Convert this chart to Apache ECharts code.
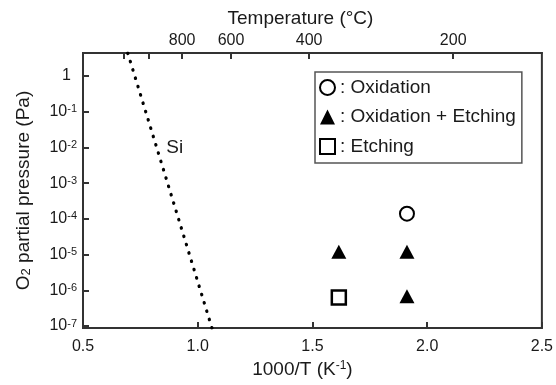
<!DOCTYPE html>
<html>
<head>
<meta charset="utf-8">
<script src="https://cdn.jsdelivr.net/npm/echarts@6/dist/echarts.min.js"></script>
<style>
html, body { margin: 0; padding: 0; background: #fff; }
#chart { width: 556px; height: 385px; }
</style>
</head>
<body>
<div id="chart"></div>
<script>
// x: 1000/T (K^-1), y: O2 partial pressure (Pa)
var oxidation = [[1.912, 1.4e-4]];
var oxidationEtching = [[1.615, 1.2e-5], [1.912, 1.2e-5], [1.912, 6.8e-7]];
var etching = [[1.615, 6.3e-7]];
var siLine = [[0.695, 4.4], [1.062, 8.8e-8]];
var siLabel = [[0.9, 0.01]];
var tempTicks = [1200, 1000, 800, 600, 400, 200];
var tempLabels = [800, 600, 400, 200];

var FONT = "'Liberation Sans', Arial, sans-serif";
var INK = '#1a1a1a';
var AXIS = '#333';

function invT(c) { return 1000 / (c + 273.15); }

var chart = echarts.init(document.getElementById('chart'));

option = {
  animation: false,
  textStyle: { fontFamily: FONT },
  grid: {
    left: 83, right: 14, top: 53, bottom: 57,
    show: true, borderColor: AXIS, borderWidth: 2
  },
  legend: {
    orient: 'vertical',
    left: 315, top: 72,
    padding: [6, 6, 7, 4],
    itemGap: 10.5,
    itemWidth: 15, itemHeight: 15,
    itemTextGap: 11,
    borderColor: '#555', borderWidth: 1.5,
    textStyle: { fontSize: 19, color: INK, fontFamily: FONT },
    formatter: function (n) { return ': ' + n; },
    data: ['Oxidation', 'Oxidation + Etching', 'Etching']
  },
  xAxis: [
    {
      type: 'value', min: 0.5, max: 2.5, interval: 0.5, position: 'bottom',
      name: '{a|1000/T (K}{s|-1}{a|)}',
      nameLocation: 'middle', nameGap: 32,
      nameTextStyle: {
        padding: [0, 20, 0, 0],
        rich: {
          a: { fontSize: 19, color: INK, fontFamily: FONT },
          s: { fontSize: 12, color: INK, fontFamily: FONT, verticalAlign: 'top' }
        }
      },
      axisLine: { lineStyle: { color: AXIS, width: 2 } },
      axisTick: { inside: true, length: 6, lineStyle: { color: AXIS, width: 2 } },
      axisLabel: { fontSize: 16, color: INK, margin: 11,
        formatter: function (v) { return v.toFixed(1); } },
      splitLine: { show: false }
    },
    {
      type: 'value', min: 0.5, max: 2.5, position: 'top',
      name: 'Temperature (°C)',
      nameLocation: 'middle', nameGap: 22,
      nameTextStyle: { fontSize: 19, color: INK, padding: [0, 24, 0, 0] },
      axisLine: { lineStyle: { color: AXIS, width: 2 } },
      axisTick: { inside: true, length: 6, lineStyle: { color: AXIS, width: 2 },
        customValues: tempTicks.map(invT) },
      axisLabel: { fontSize: 16, color: INK, margin: 4,
        customValues: tempLabels.map(invT),
        formatter: function (v) { return String(Math.round(1000 / v - 273.15)); } },
      splitLine: { show: false }
    }
  ],
  yAxis: {
    type: 'log', logBase: 10, min: 8.8e-8, max: 4.41,
    name: '{a|O}{s|2}{a| partial pressure (Pa)}',
    nameLocation: 'middle', nameGap: 50, nameRotate: 90,
    nameTextStyle: {
      rich: {
        a: { fontSize: 19, color: INK, fontFamily: FONT },
        s: { fontSize: 13, color: INK, fontFamily: FONT, verticalAlign: 'bottom' }
      }
    },
    axisLine: { lineStyle: { color: AXIS, width: 2 } },
    axisTick: { inside: true, length: 6, lineStyle: { color: AXIS, width: 2 } },
    axisLabel: {
      margin: 6,
      formatter: function (v) {
        var e = Math.log10(v);
        var r = Math.round(e);
        if (Math.abs(e - r) > 1e-6) return '';
        if (r === 0) return '{one|1}';
        return '{b|10}{s|' + r + '}';
      },
      rich: {
        one: { fontSize: 16, color: INK, fontFamily: FONT, padding: [0, 6, 0, 0] },
        b: { fontSize: 16, color: INK, fontFamily: FONT },
        s: { fontSize: 11, color: INK, fontFamily: FONT, verticalAlign: 'top' }
      }
    },
    splitLine: { show: false }
  },
  series: [
    {
      name: 'Si', type: 'line', data: siLine, showSymbol: false, silent: true,
      lineStyle: { color: '#000', width: 3.2, type: [0.5, 8.2], cap: 'round' },
      z: 1
    },
    {
      name: 'Si label', type: 'scatter', data: siLabel, symbolSize: 0, silent: true,
      itemStyle: { opacity: 1 },
      label: { show: true, position: 'inside', formatter: 'Si', opacity: 1,
        fontSize: 19, color: INK, fontFamily: FONT }
    },
    {
      name: 'Oxidation', type: 'scatter', data: oxidation,
      symbol: 'circle', symbolSize: 14,
      itemStyle: { color: '#fff', borderColor: '#000', borderWidth: 2, opacity: 1 }
    },
    {
      name: 'Oxidation + Etching', type: 'scatter', data: oxidationEtching,
      symbol: 'triangle', symbolSize: [15, 14],
      itemStyle: { color: '#000', opacity: 1 }
    },
    {
      name: 'Etching', type: 'scatter', data: etching,
      symbol: 'rect', symbolSize: 14,
      itemStyle: { color: '#fff', borderColor: '#000', borderWidth: 2.5, opacity: 1 }
    }
  ]
};
chart.setOption(option, true);
</script>
</body>
</html>
